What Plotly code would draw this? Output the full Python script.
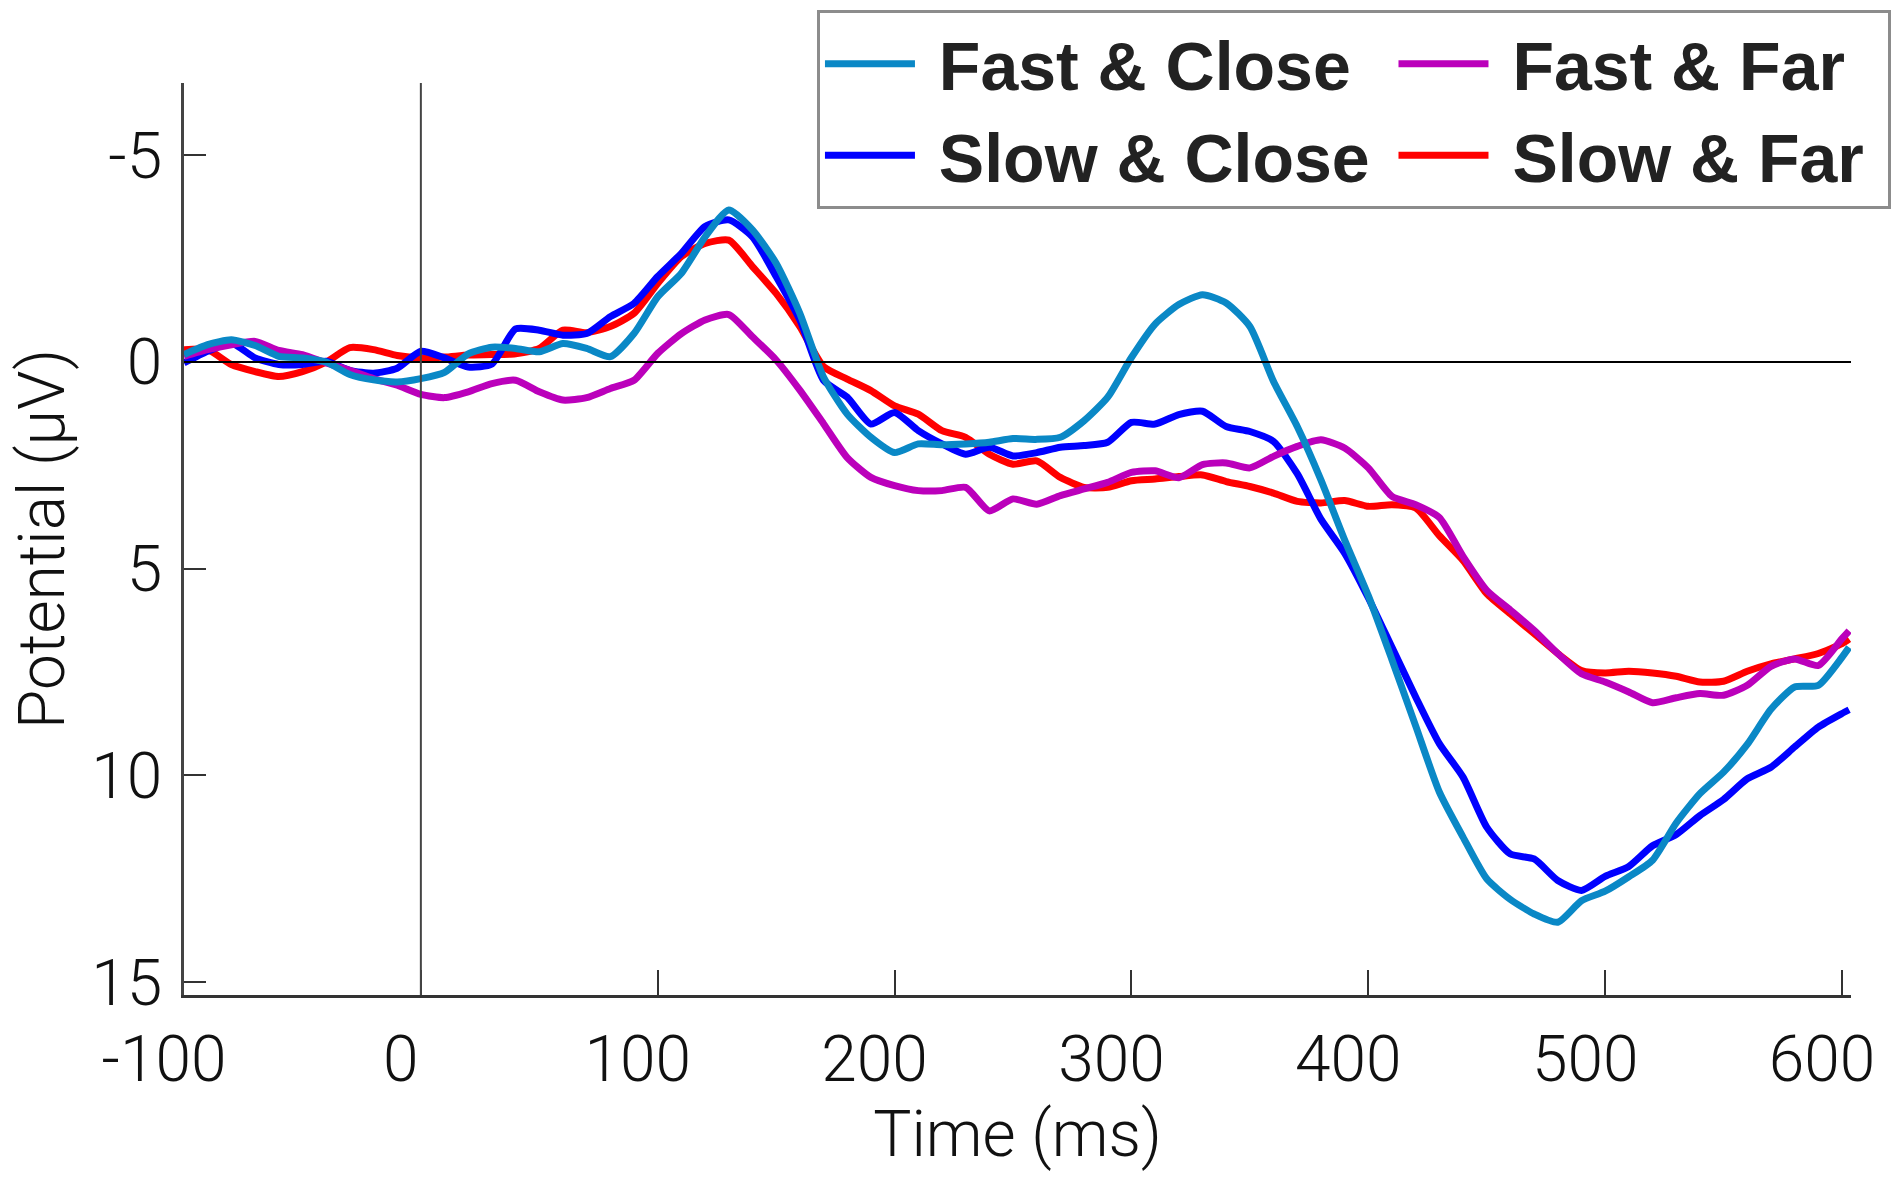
import plotly.graph_objects as go

# Time axis (ms)
time_ms = [-100, -90, -80, -70, -60, -50, -40, -30, -20, -10,
           0, 10, 20, 30, 40, 50, 60, 70, 80, 90,
           100, 110, 120, 130, 140, 150, 160, 170, 180, 190,
           200, 210, 220, 230, 240, 250, 260, 270, 280, 290,
           300, 310, 320, 330, 340, 350, 360, 370, 380, 390,
           400, 410, 420, 430, 440, 450, 460, 470, 480, 490,
           500, 510, 520, 530, 540, 550, 560, 570, 580, 590,
           600, 603]

fast_close = [-0.18, -0.42, -0.54, -0.40, -0.14, -0.10, 0.00, 0.30, 0.43, 0.48,
              0.40, 0.25, -0.20, -0.36, -0.33, -0.25, -0.45, -0.33, -0.13, -0.69,
              -1.58, -2.15, -3.03, -3.68, -3.20, -2.39, -1.18, 0.36, 1.26, 1.82,
              2.19, 1.98, 2.00, 1.98, 1.94, 1.85, 1.87, 1.82, 1.42, 0.85,
              -0.11, -0.92, -1.39, -1.63, -1.43, -0.86, 0.47, 1.56, 2.85, 4.30,
              5.65, 7.20, 8.80, 10.40, 11.49, 12.50, 13.00, 13.35, 13.55, 13.03,
              12.80, 12.45, 12.05, 11.15, 10.44, 9.92, 9.25, 8.40, 7.86, 7.82,
              7.14, 6.90]

slow_close = [0.02, -0.26, -0.46, -0.10, 0.06, 0.06, -0.02, 0.20, 0.27, 0.15,
              -0.26, -0.10, 0.12, 0.05, -0.80, -0.77, -0.65, -0.69, -1.10, -1.42,
              -2.07, -2.63, -3.28, -3.44, -3.03, -2.07, -1.02, 0.44, 0.85, 1.50,
              1.22, 1.66, 1.98, 2.23, 2.06, 2.27, 2.19, 2.06, 2.02, 1.94,
              1.46, 1.50, 1.27, 1.19, 1.56, 1.68, 1.92, 2.70, 3.80, 4.62,
              5.70, 6.90, 8.10, 9.23, 10.04, 11.25, 11.90, 12.02, 12.54, 12.78,
              12.44, 12.20, 11.70, 11.43, 10.97, 10.58, 10.08, 9.80, 9.31, 8.83,
              8.50, 8.41]

fast_far = [-0.14, -0.30, -0.42, -0.50, -0.28, -0.18, 0.02, 0.20, 0.40, 0.56,
            0.78, 0.86, 0.72, 0.52, 0.44, 0.72, 0.92, 0.86, 0.64, 0.44,
            -0.21, -0.69, -1.02, -1.15, -0.61, -0.05, 0.68, 1.49, 2.31, 2.79,
            2.99, 3.11, 3.11, 3.03, 3.60, 3.31, 3.44, 3.23, 3.07, 2.91,
            2.67, 2.63, 2.80, 2.48, 2.44, 2.56, 2.28, 2.04, 1.88, 2.08,
            2.56, 3.25, 3.45, 3.76, 4.70, 5.52, 6.00, 6.49, 7.05, 7.54,
            7.74, 7.98, 8.24, 8.12, 8.02, 8.06, 7.82, 7.36, 7.18, 7.34,
            6.69, 6.50]

slow_far = [-0.30, -0.30, 0.06, 0.23, 0.35, 0.23, 0.00, -0.35, -0.30, -0.16,
            -0.10, -0.12, -0.17, -0.18, -0.20, -0.33, -0.77, -0.71, -0.86, -1.18,
            -1.90, -2.55, -2.87, -2.95, -2.31, -1.66, -0.86, 0.11, 0.41, 0.69,
            1.06, 1.26, 1.66, 1.82, 2.23, 2.47, 2.39, 2.79, 3.03, 3.03,
            2.87, 2.83, 2.77, 2.73, 2.89, 3.01, 3.17, 3.37, 3.41, 3.35,
            3.49, 3.45, 3.53, 4.20, 4.80, 5.60, 6.09, 6.57, 7.05, 7.46,
            7.52, 7.48, 7.52, 7.60, 7.74, 7.72, 7.48, 7.30, 7.18, 7.05,
            6.81, 6.70]

x_ticks = [-100, 0, 100, 200, 300, 400, 500, 600]
y_ticks = [-5, 0, 5, 10, 15]

NB = "\u00a0"
# (name, values, color, legend rank) - drawn in this order (first = bottom)
series = [
    ("Slow & Far", slow_far, "#FF0000", 4),
    ("Slow & Close", slow_close, "#0000FF", 3),
    ("Fast & Far", fast_far, "#BB00BB", 2),
    ("Fast & Close", fast_close, "#0A88C6", 1),
]

fig = go.Figure()
for name, vals, color, rank in series:
    fig.add_trace(go.Scatter(
        x=time_ms, y=vals, mode="lines", name=NB + name + NB,
        legendrank=rank,
        line=dict(color=color, width=7, shape="spline", smoothing=0.6),
    ))

tick_font = dict(family="Roboto, Liberation Sans, Arial, sans-serif", size=64, color="#111111", weight=300)
title_font = dict(family="Roboto, Liberation Sans, Arial, sans-serif", size=64, color="#111111", weight=300)

fig.update_layout(
    width=1899, height=1178,
    margin=dict(l=184, r=48, t=83, b=183, autoexpand=False),
    paper_bgcolor="white", plot_bgcolor="white",
    showlegend=True,
    legend=dict(
        orientation="h",
        x=0.3797, xanchor="left", y=1.080, yanchor="top",
        bgcolor="white", bordercolor="#8C8C8C", borderwidth=3,
        itemwidth=90,
        font=dict(family="Liberation Sans, Arial, Helvetica, sans-serif", size=68, color="#222222", weight="bold"),
    ),
    xaxis=dict(
        range=[-100, 603.8], tickvals=x_ticks, ticktext=[str(v) for v in x_ticks],
        showgrid=False, zeroline=False,
        showline=True, linecolor="#333333", linewidth=3,
        ticks="inside", ticklen=25, tickwidth=2, tickcolor="#333333",
        tickfont=tick_font, ticklabelstandoff=6, ticklabelshift=-20,
        title=dict(text="Time (ms)", font=title_font, standoff=6),
    ),
    yaxis=dict(
        range=[15.31, -6.75], tickvals=y_ticks, ticktext=[str(v) for v in y_ticks],
        showgrid=False, zeroline=False,
        showline=True, linecolor="#444444", linewidth=3,
        ticks="inside", ticklen=22, tickwidth=2, tickcolor="#333333",
        tickfont=tick_font, ticklabelstandoff=6,
        title=dict(text="Potential (μV)", font=title_font, standoff=6),
    ),
    shapes=[
        dict(type="line", xref="x", yref="y", x0=-100, x1=603.8, y0=0, y1=0,
             line=dict(color="#000000", width=2), layer="above"),
        dict(type="line", xref="x", yref="paper", x0=0, x1=0, y0=0, y1=1,
             line=dict(color="#444444", width=2), layer="above"),
    ],
)

fig.write_html("out.html")
